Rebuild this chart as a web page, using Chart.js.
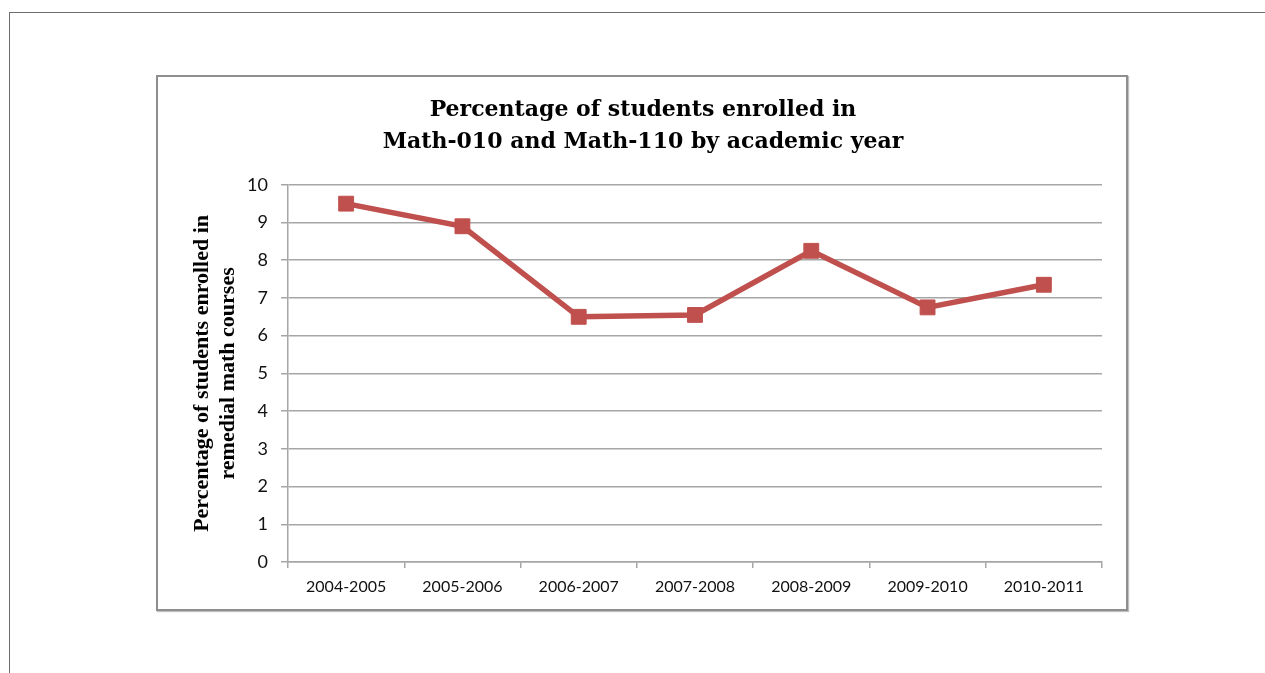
<!DOCTYPE html>
<html>
<head>
<meta charset="utf-8">
<title>Remedial math enrollment</title>
<script src="https://cdn.jsdelivr.net/npm/chart.js@4"></script>
<style>
  html, body { margin: 0; padding: 0; background: #fff; }
  #wrap { position: relative; width: 1265px; height: 673px; overflow: hidden; }
  /* page frame: only top and left edges visible */
  #page { position: absolute; left: 9px; top: 12px; width: 1300px; height: 700px;
          border-top: 1.5px solid #6e6e6e; border-left: 1.5px solid #6e6e6e; }
  /* chart border box */
  #box { position: absolute; left: 156px; top: 75px; width: 968px; height: 532px;
         border: 2px solid #8e8e8e; box-shadow: 1px 1px 1px rgba(0,0,0,0.25); }
  canvas { position: absolute; left: 0; top: 0; }
</style>
</head>
<body>
<div id="wrap">
  <div id="page"></div>
  <div id="box"></div>
  <canvas id="bieuDo" width="1265" height="673"></canvas>
</div>
<script>
// năm học
const namHoc = ["2004-2005", "2005-2006", "2006-2007", "2007-2008", "2008-2009", "2009-2010", "2010-2011"];
// phần trăm sinh viên học Math-010 và Math-110
const phanTram = [9.5, 8.9, 6.5, 6.55, 8.25, 6.75, 7.35];
// nhãn trục y
const nhanTrucY = [0, 1, 2, 3, 4, 5, 6, 7, 8, 9, 10];

const tieuDe = ["Percentage of students enrolled in", "Math-010 and Math-110 by academic year"];
const tieuDeTrucY = ["Percentage of students enrolled in", "remedial math courses"];

const mauDuong = "#c0504d";
const mauLuoi = "#a6a6a6";

const ctx = document.getElementById("bieuDo").getContext("2d");

new Chart(ctx, {
    type: "line",
    data: {
        labels: namHoc,
        datasets: [
            {
                label: "Phần trăm",
                data: phanTram,
                borderColor: mauDuong,
                backgroundColor: mauDuong,
                borderWidth: 5.5,
                pointStyle: "rect",
                pointRadius: 10.5,
                pointHoverRadius: 10.5,
                pointBorderWidth: 1,
                tension: 0,
            },
        ],
    },
    options: {
        responsive: false,
        animation: false,
        layout: {
            padding: { left: 184, right: 163, top: 94, bottom: 63 },
        },
        plugins: {
            legend: { display: false },
            tooltip: { enabled: false },
            title: {
                display: true,
                text: tieuDe,
                color: "#000",
                font: { family: "DejaVu Serif", size: 22, weight: "bold", lineHeight: 1.45 },
                padding: { top: 0, bottom: 27 },
            },
        },
        scales: {
            x: {
                offset: true,
                grid: {
                    offset: true,
                    drawOnChartArea: false,
                    drawTicks: true,
                    tickLength: 6,
                    color: mauLuoi,
                    lineWidth: 1.5,
                },
                border: { color: mauLuoi, width: 1.5 },
                ticks: {
                    color: "#111",
                    font: { family: "Lato", size: 16 },
                    padding: 9,
                    maxRotation: 0,
                    minRotation: 0,
                },
                afterFit: (scale) => { scale.height = 48; },
            },
            y: {
                min: 0,
                max: 10,
                afterBuildTicks: (scale) => {
                    scale.ticks = nhanTrucY.map((v) => ({ value: v }));
                },
                grid: {
                    color: mauLuoi,
                    lineWidth: 1.5,
                    tickLength: 7,
                },
                border: { color: mauLuoi, width: 1.5 },
                ticks: {
                    color: "#111",
                    font: { family: "Lato", size: 18 },
                    padding: 13,
                },
                title: {
                    display: true,
                    text: tieuDeTrucY,
                    color: "#000",
                    font: { family: "Liberation Serif", size: 22, weight: "bold", lineHeight: 1.2 },
                    padding: { top: 5, bottom: 0 },
                },
                afterFit: (scale) => { scale.width = 104; },
            },
        },
    },
});
</script>
</body>
</html>
